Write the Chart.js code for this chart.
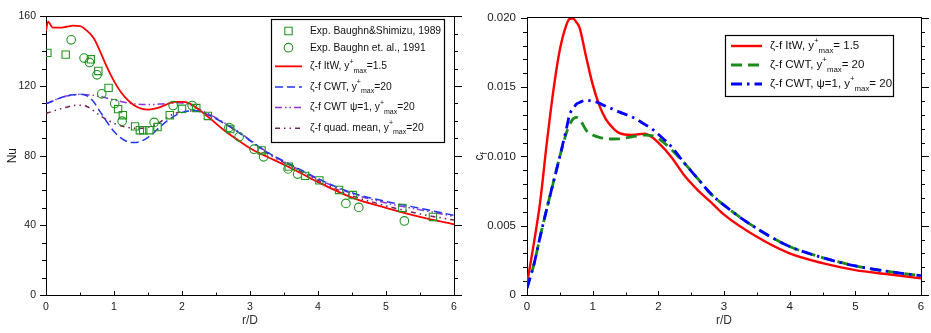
<!DOCTYPE html>
<html lang="en">
<head>
<meta charset="utf-8" />
<title>Nu and cf along r/D</title>
<style>
  html, body { margin: 0; padding: 0; background: #fff; }
  #wrap { display: flex; width: 931px; height: 333px; }
  canvas { display: block; }
</style>
<script src="https://cdn.jsdelivr.net/npm/chart.js"></script>
</head>
<body>
<div id="wrap">
  <canvas id="nuChart" width="470" height="333"></canvas>
  <canvas id="cfChart" width="461" height="333"></canvas>
</div>
<script>
// ---- left panel: Nu ----
const rD = [0, 0.03, 0.1, 0.2, 0.3, 0.4, 0.5, 0.6, 0.7, 0.8, 0.9, 1.0, 1.1, 1.2, 1.3, 1.4, 1.5, 1.6, 1.7, 1.8,
            1.9, 2.0, 2.1, 2.2, 2.4, 2.6, 2.8, 3.0, 3.25, 3.5, 3.75, 4.0, 4.5, 5.0, 5.5, 6.0];
const nuItW = [151.6, 157, 153.5, 153.5, 154, 154.6, 154.4, 151.8, 147.5, 139.5, 130.5, 122.8, 116.5, 112, 108.8, 107, 106.4, 107, 108.2, 109.8,
               110.9, 110.9, 110.2, 107.8, 101.8, 95.2, 89.5, 84.2, 79.4, 74.8, 69.9, 64.8, 55.9, 50, 44.8, 40.6];
const nuCWT = [110, 110.2, 111.3, 113, 114.2, 114.9, 115.2, 114.4, 110.9, 105, 99.2, 93.8, 90.2, 88, 87.5, 88.3, 90.5, 93.7, 97.3, 100.5,
               103, 104.8, 105.7, 105.8, 103.2, 99, 94.2, 88.8, 82, 76.8, 71.8, 66.8, 58.7, 53.7, 49.8, 45.7];
const nuCWTpsi = [110, 110.3, 111.5, 113, 114.2, 114.9, 115.2, 115, 114.6, 113.9, 113, 112, 111.1, 110.3, 109.7, 109.4, 109.3, 109.4, 109.7, 110,
                  110.3, 110.2, 109.3, 107.6, 103.8, 99.3, 94.5, 89, 82, 76.5, 71.4, 66.5, 58.2, 52.8, 48.9, 45.1];
const nuQuad = [104.4, 104.6, 105.5, 106.7, 107.8, 108.7, 109, 108.2, 105.8, 102.8, 100.6, 98.6, 97.2, 96.2, 95.8, 95.7, 96.3, 97.6, 99.8, 102.4,
                104.2, 105.2, 105.7, 105.7, 103.6, 99, 94.2, 88.6, 81.5, 76, 70.8, 65.8, 57, 51.2, 46.5, 43];

const shimizuR = [0.02, 0.29, 0.66, 0.77, 0.92, 1.06, 1.13, 1.31, 1.38, 1.43, 1.52, 1.64, 1.82, 2.0, 2.21, 2.38, 2.71, 3.17, 3.57, 3.81, 4.02, 4.31, 4.51, 5.24, 5.69];
const shimizuNu = [139, 138, 135.3, 128.6, 118.9, 106.7, 103.2, 96.8, 94.6, 94.6, 94.6, 96.4, 103.2, 106.9, 107.3, 102.8, 95.3, 83, 73.7, 68.4, 65.8, 60.3, 57.4, 50, 44.8];
const baughnR = [0.37, 0.56, 0.64, 0.75, 0.82, 1.01, 1.12, 1.59, 1.87, 2.15, 2.69, 2.84, 3.06, 3.2, 3.56, 3.7, 4.41, 4.6, 5.27];
const baughnNu = [146.5, 136, 133.5, 126.4, 115.5, 109.9, 99.8, 99.1, 108.8, 108.8, 96.1, 90.8, 83.7, 79.3, 72.4, 69.4, 52.6, 50.3, 42.5];

const nuTicks = [0, 40, 80, 120, 160];
const nuTickLabels = ['0', '40', '80', '120', '160'];

// ---- right panel: cf ----
const rDcf = [0, 0.05, 0.1, 0.2, 0.3, 0.4, 0.5, 0.6, 0.65, 0.7, 0.75, 0.8, 0.9, 1.0, 1.1, 1.2, 1.3, 1.4, 1.6, 1.8,
              1.9, 2.0, 2.2, 2.4, 2.6, 2.8, 3.0, 3.5, 4.0, 4.5, 5.0, 5.5, 6.0];
const cfItW = [0.0008, 0.0022, 0.0036, 0.0067, 0.0109, 0.0147, 0.0177, 0.0195, 0.01993, 0.01995, 0.0197, 0.0193, 0.0172, 0.0152, 0.0137, 0.0127, 0.0121, 0.0117, 0.01155, 0.01165,
               0.0114, 0.0110, 0.00995, 0.0086, 0.00757, 0.0067, 0.0058, 0.0042, 0.0030, 0.0023, 0.0018, 0.0015, 0.0012];
const cfCWT = [0.0005, 0.0013, 0.0021, 0.0042, 0.0062, 0.0081, 0.0100, 0.0117, 0.0123, 0.0127, 0.01282, 0.0127, 0.0119, 0.01155, 0.01138, 0.0113, 0.01126, 0.01127, 0.01142, 0.01154,
               0.0115, 0.0113, 0.0105, 0.0095, 0.0084, 0.0073, 0.00648, 0.0048, 0.0035, 0.0027, 0.0021, 0.0017, 0.0014];
const cfCWTpsi = [0.0005, 0.0013, 0.0021, 0.0042, 0.0062, 0.0081, 0.0100, 0.0120, 0.01305, 0.0134, 0.01377, 0.0139, 0.01406, 0.01398, 0.01385, 0.01362, 0.01343, 0.01322, 0.01285, 0.0123,
                  0.0120, 0.0116, 0.0107, 0.0095, 0.0084, 0.0073, 0.00648, 0.0048, 0.0035, 0.0027, 0.0021, 0.0017, 0.0014];

const cfTicks = [0, 0.005, 0.010, 0.015, 0.020];
const cfTickLabels = ['0', '0.005', '0.010', '0.015', '0.020'];

const rTicks = [0, 1, 2, 3, 4, 5, 6];

const FONT = '"Liberation Sans", Arial, Helvetica, sans-serif';
Chart.defaults.font.family = FONT;
Chart.defaults.font.size = 12;
Chart.defaults.color = '#1a1a1a';
Chart.defaults.animation = false;

const pts = (xs, ys) => xs.map((x, i) => ({ x, y: ys[i] }));

// text with ^{sup} and _{sub} pieces
function richParts(str) {
  return str.split(/(\^\{[^}]*\}|_\{[^}]*\})/).filter(Boolean).map(p => {
    if (p.startsWith('^{')) return { t: p.slice(2, -1), k: 'sup' };
    if (p.startsWith('_{')) return { t: p.slice(2, -1), k: 'sub' };
    return { t: p, k: 'n' };
  });
}
function drawRich(ctx, str, x, y, size, measureOnly) {
  let cx = x;
  for (const p of richParts(str)) {
    const fs = p.k === 'n' ? size : size * 0.68;
    const dy = p.k === 'sup' ? -size * 0.45 : p.k === 'sub' ? size * 0.42 : 0;
    ctx.font = fs + 'px ' + FONT;
    if (!measureOnly) ctx.fillText(p.t, cx, y + dy);
    cx += ctx.measureText(p.t).width;
  }
  return cx - x;
}

// minor + major tick marks
const tickMarks = {
  id: 'tickMarks',
  afterDraw(chart, args, o) {
    const { ctx, chartArea: a, scales: { x, y } } = chart;
    ctx.save();
    ctx.strokeStyle = '#000';
    ctx.lineWidth = 1;
    ctx.beginPath();
    const nx = Math.round((x.max - x.min) / o.xMinor);
    for (let i = 0; i <= nx; i++) {
      const px = Math.round(x.getPixelForValue(x.min + i * o.xMinor)) + 0.5;
      const len = i % o.xEvery === 0 ? 4 : 2.5;
      ctx.moveTo(px, a.bottom);
      ctx.lineTo(px, a.bottom - len);
    }
    const ny = Math.round((y.max - y.min) / o.yMinor);
    for (let i = 0; i <= ny; i++) {
      const py = Math.round(y.getPixelForValue(y.min + i * o.yMinor)) + 0.5;
      const major = i % o.yEvery === 0;
      ctx.moveTo(a.left, py);
      ctx.lineTo(a.left - (major ? 6 : 4), py);
      ctx.moveTo(a.right, py);
      ctx.lineTo(a.right + (major ? 8 : 4), py);
    }
    ctx.stroke();
    ctx.restore();
  }
};

// framed legend inside the plot
const boxLegend = {
  id: 'boxLegend',
  afterDatasetsDraw(chart, args, o) {
    const ctx = chart.ctx;
    const sets = chart.data.datasets;
    const hs = sets.map(d => /[\^_]\{/.test(d.legendText) ? o.rowScript : o.rowPlain);
    const ys = [];
    let y = o.top + o.firstOffset;
    hs.forEach((h, i) => { if (i) y += (hs[i - 1] + h) / 2; ys.push(y); });
    const bottom = ys[ys.length - 1] + o.lastOffset;
    ctx.save();
    ctx.fillStyle = '#fff';
    ctx.fillRect(o.left, o.top, o.width, bottom - o.top);
    ctx.strokeStyle = '#000';
    ctx.lineWidth = 1.2;
    ctx.strokeRect(Math.round(o.left) + 0.5, Math.round(o.top) + 0.5, o.width, Math.round(bottom - o.top));
    sets.forEach((d, i) => {
      const yy = ys[i];
      const mx = (o.lineX0 + o.lineX1) / 2;
      if (d.showLine) {
        ctx.strokeStyle = d.borderColor;
        ctx.lineWidth = d.borderWidth;
        ctx.setLineDash(d.borderDash || []);
        ctx.beginPath();
        ctx.moveTo(o.lineX0, yy);
        ctx.lineTo(o.lineX1, yy);
        ctx.stroke();
        ctx.setLineDash([]);
      } else {
        ctx.strokeStyle = d.borderColor;
        ctx.lineWidth = d.borderWidth;
        ctx.beginPath();
        if (d.pointStyle === 'rect') {
          const s = d.pointRadius * Math.SQRT1_2;
          ctx.rect(mx - s, yy - s, 2 * s, 2 * s);
        } else {
          ctx.arc(mx, yy, d.pointRadius, 0, Math.PI * 2);
        }
        ctx.stroke();
      }
      ctx.fillStyle = '#111';
      ctx.textBaseline = 'middle';
      ctx.textAlign = 'left';
      drawRich(ctx, d.legendText, o.textX, yy, o.fontSize);
    });
    ctx.restore();
  }
};

// rotated y title with subscript
const richYTitle = {
  id: 'richYTitle',
  afterDraw(chart, args, o) {
    if (!o.text) return;
    const ctx = chart.ctx;
    const a = chart.chartArea;
    ctx.save();
    ctx.translate(o.x, (a.top + a.bottom) / 2);
    ctx.rotate(-Math.PI / 2);
    ctx.fillStyle = '#1a1a1a';
    ctx.textBaseline = 'middle';
    ctx.textAlign = 'left';
    const w = drawRich(ctx, o.text, 0, 0, o.fontSize, true);
    drawRich(ctx, o.text, -w / 2, 0, o.fontSize);
    ctx.restore();
  }
};

function frameAxes(xMin, xMax, yMin, yMax, rightW) {
  const plain = {
    type: 'linear',
    ticks: { display: false },
    grid: { display: false, drawTicks: false },
    border: { display: true, color: '#000', width: 1 }
  };
  return {
    x2: Object.assign({}, plain, { position: 'top', min: xMin, max: xMax, afterFit: s => { s.height = 0; } }),
    y2: Object.assign({}, plain, { position: 'right', min: yMin, max: yMax, afterFit: s => { s.width = rightW; } })
  };
}

function xAxis(tickSize, pad) {
  return {
    type: 'linear', position: 'bottom', min: 0, max: 6,
    afterBuildTicks: s => { s.ticks = rTicks.map(v => ({ value: v })); },
    ticks: { padding: pad, color: '#1a1a1a', font: { size: tickSize } },
    grid: { display: false, drawTicks: false },
    border: { display: true, color: '#000', width: 1 },
    title: { display: true, text: 'r/D', color: '#333', font: { size: 12 }, padding: { top: 0, bottom: 5 } },
    afterFit: s => { s.height = 38; }
  };
}

const red = '#ff0000';
const green = '#1f941f';

new Chart(document.getElementById('nuChart'), {
  type: 'scatter',
  data: {
    datasets: [
      { label: 'Exp. Baughn&Shimizu, 1989', legendText: 'Exp. Baughn&Shimizu, 1989',
        data: pts(shimizuR, shimizuNu), showLine: false, pointStyle: 'rect', pointRadius: 5.2,
        borderColor: green, backgroundColor: 'rgba(0,0,0,0)', borderWidth: 1.1 },
      { label: 'Exp. Baughn et. al., 1991', legendText: 'Exp. Baughn et. al., 1991',
        data: pts(baughnR, baughnNu), showLine: false, pointStyle: 'circle', pointRadius: 4.3,
        borderColor: green, backgroundColor: 'rgba(0,0,0,0)', borderWidth: 1.1 },
      { label: 'ζ-f ItW, y+max=1.5', legendText: 'ζ-f ItW, y^{+}_{max}=1.5',
        data: pts(rD, nuItW), showLine: true, borderColor: red, borderWidth: 1.8, pointRadius: 0,
        cubicInterpolationMode: 'monotone' },
      { label: 'ζ-f CWT, y+max=20', legendText: 'ζ-f CWT, y^{+}_{max}=20',
        data: pts(rD, nuCWT), showLine: true, borderColor: '#1f35f0', borderWidth: 1.5, borderDash: [8, 4],
        pointRadius: 0, cubicInterpolationMode: 'monotone' },
      { label: 'ζ-f CWT ψ=1, y+max=20', legendText: 'ζ-f CWT ψ=1, y^{+}_{max}=20',
        data: pts(rD, nuCWTpsi), showLine: true, borderColor: '#8a35d8', borderWidth: 1.5, borderDash: [7, 3, 1.5, 3, 1.5, 3],
        pointRadius: 0, cubicInterpolationMode: 'monotone' },
      { label: 'ζ-f quad. mean, y+max=20', legendText: 'ζ-f quad. mean, y^{+}_{max}=20',
        data: pts(rD, nuQuad), showLine: true, borderColor: '#76205e', borderWidth: 1.5, borderDash: [5, 4, 1.5, 4, 1.5, 4],
        pointRadius: 0, cubicInterpolationMode: 'monotone' }
    ]
  },
  options: {
    responsive: false,
    layout: { padding: { top: 9, left: 0, right: 0, bottom: 0 } },
    scales: Object.assign({
      x: xAxis(10.5, 6),
      y: {
        type: 'linear', position: 'left', min: 0, max: 160,
        afterBuildTicks: s => { s.ticks = nuTicks.map(v => ({ value: v })); },
        ticks: { padding: 10, color: '#1a1a1a', font: { size: 10.5 }, callback: (v, i) => nuTickLabels[i] },
        grid: { display: false, drawTicks: false },
        border: { display: true, color: '#000', width: 1 },
        title: { display: true, text: 'Nu', color: '#1a1a1a', font: { size: 12 }, padding: { top: 5, bottom: 0 } },
        afterFit: s => { s.width = 46; }
      }
    }, frameAxes(0, 6, 0, 160, 16)),
    plugins: {
      legend: { display: false },
      tooltip: { enabled: false },
      tickMarks: { xMinor: 0.5, xEvery: 2, yMinor: 10, yEvery: 4 },
      boxLegend: { left: 271, top: 19, width: 173, firstOffset: 12, lastOffset: 14,
                   rowPlain: 16.7, rowScript: 20.6, lineX0: 275, lineX1: 302, textX: 310, fontSize: 10.3 }
    }
  },
  plugins: [tickMarks, boxLegend]
});

new Chart(document.getElementById('cfChart'), {
  type: 'scatter',
  data: {
    datasets: [
      { label: 'ζ-f ItW, y+max= 1.5', legendText: 'ζ-f ItW, y^{+}_{max}= 1.5',
        data: pts(rDcf, cfItW), showLine: true, borderColor: red, borderWidth: 2.4, pointRadius: 0,
        cubicInterpolationMode: 'monotone', order: 3 },
      { label: 'ζ-f CWT, y+max= 20', legendText: 'ζ-f CWT, y^{+}_{max}= 20',
        data: pts(rDcf, cfCWT), showLine: true, borderColor: '#1a8a1a', borderWidth: 2.8, borderDash: [11, 6],
        pointRadius: 0, cubicInterpolationMode: 'monotone', order: 2 },
      { label: 'ζ-f CWT, ψ=1, y+max= 20', legendText: 'ζ-f CWT, ψ=1, y^{+}_{max}= 20',
        data: pts(rDcf, cfCWTpsi), showLine: true, borderColor: '#0000ff', borderWidth: 2.8, borderDash: [11, 5, 2.5, 5],
        pointRadius: 0, cubicInterpolationMode: 'monotone', order: 1 }
    ]
  },
  options: {
    responsive: false,
    layout: { padding: { top: 15, left: 0, right: 0, bottom: 0 } },
    scales: Object.assign({
      x: xAxis(11.5, 5),
      y: {
        type: 'linear', position: 'left', min: 0, max: 0.02,
        afterBuildTicks: s => { s.ticks = cfTicks.map(v => ({ value: v })); },
        ticks: { padding: 11, color: '#1a1a1a', font: { size: 11.5 }, callback: (v, i) => cfTickLabels[i] },
        grid: { display: false, drawTicks: false },
        border: { display: true, color: '#000', width: 1 },
        afterFit: s => { s.width = 57; }
      }
    }, frameAxes(0, 6, 0, 0.02, 10)),
    plugins: {
      legend: { display: false },
      tooltip: { enabled: false },
      tickMarks: { xMinor: 0.5, xEvery: 2, yMinor: 0.001, yEvery: 5 },
      boxLegend: { left: 255, top: 35, width: 168, firstOffset: 11, lastOffset: 12,
                   rowPlain: 19, rowScript: 19, lineX0: 261, lineX1: 292, textX: 300, fontSize: 11.5 },
      richYTitle: { text: 'c_{f}', x: 10, fontSize: 12 }
    }
  },
  plugins: [tickMarks, boxLegend, richYTitle]
});
</script>
</body>
</html>
